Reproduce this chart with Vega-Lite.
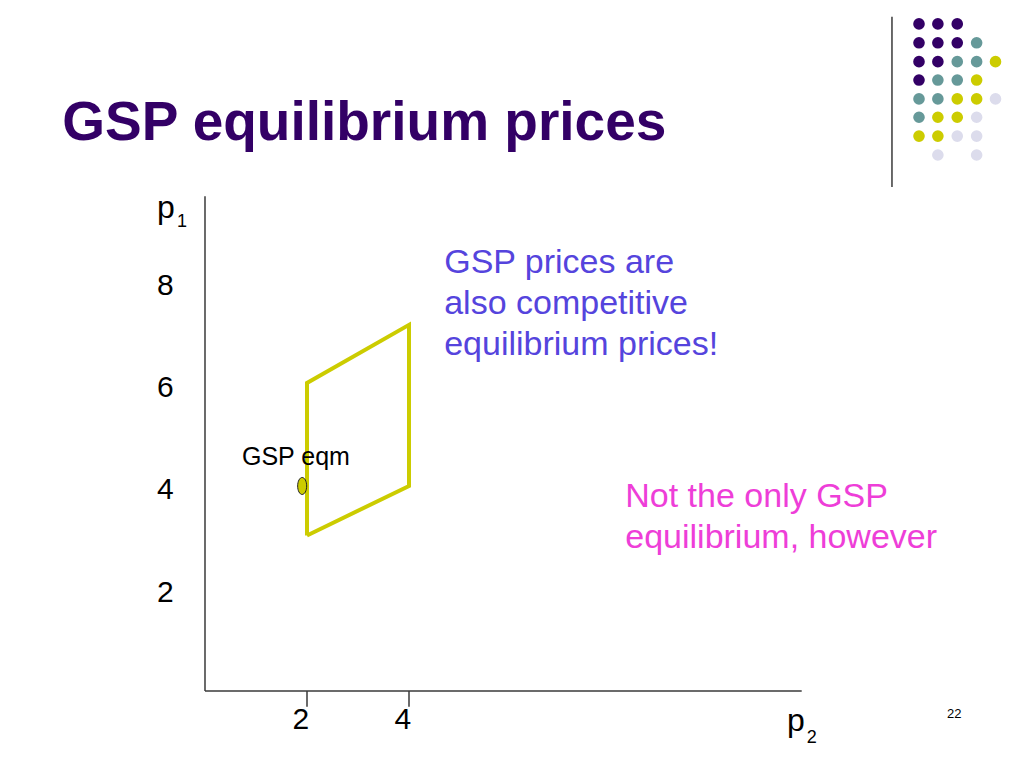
{
  "$schema": "https://vega.github.io/schema/vega-lite/v6.json",
  "width": 1024,
  "height": 768,
  "autosize": {"type": "fit", "contains": "padding"},
  "padding": 0,
  "background": "white",
  "config": {"view": {"stroke": null}, "text": {"font": "Liberation Sans"}},
  "datasets": {
    "rules": [
      {"x": 0, "y": 0, "x2": 11.7, "y2": 0},
      {"x": 0, "y": 0, "x2": 0, "y2": 9.7},
      {"x": 2, "y": 0, "x2": 2, "y2": -0.31},
      {"x": 4, "y": 0, "x2": 4, "y2": -0.31},
      {"x": 13.47, "y": 13.22, "x2": 13.47, "y2": 9.88}
    ],
    "region": [
      {"i": 0, "x": 2, "y": 3.05},
      {"i": 1, "x": 4, "y": 4.02},
      {"i": 2, "x": 4, "y": 7.18},
      {"i": 3, "x": 2, "y": 6.04},
      {"i": 4, "x": 2, "y": 3.05}
    ],
    "eqm": [{"x": 1.905, "y": 4.02}],
    "dots": [
      {"x": 14.0, "y": 13.08, "c": "P"}, {"x": 14.37, "y": 13.08, "c": "P"}, {"x": 14.75, "y": 13.08, "c": "P"},
      {"x": 14.0, "y": 12.71, "c": "P"}, {"x": 14.37, "y": 12.71, "c": "P"}, {"x": 14.75, "y": 12.71, "c": "P"}, {"x": 15.13, "y": 12.71, "c": "T"},
      {"x": 14.0, "y": 12.34, "c": "P"}, {"x": 14.37, "y": 12.34, "c": "P"}, {"x": 14.75, "y": 12.34, "c": "T"}, {"x": 15.13, "y": 12.34, "c": "T"}, {"x": 15.5, "y": 12.34, "c": "Y"},
      {"x": 14.0, "y": 11.98, "c": "P"}, {"x": 14.37, "y": 11.98, "c": "T"}, {"x": 14.75, "y": 11.98, "c": "T"}, {"x": 15.13, "y": 11.98, "c": "Y"},
      {"x": 14.0, "y": 11.61, "c": "T"}, {"x": 14.37, "y": 11.61, "c": "T"}, {"x": 14.75, "y": 11.61, "c": "Y"}, {"x": 15.13, "y": 11.61, "c": "Y"}, {"x": 15.5, "y": 11.61, "c": "L"},
      {"x": 14.0, "y": 11.25, "c": "T"}, {"x": 14.37, "y": 11.25, "c": "Y"}, {"x": 14.75, "y": 11.25, "c": "Y"}, {"x": 15.13, "y": 11.25, "c": "L"},
      {"x": 14.0, "y": 10.88, "c": "Y"}, {"x": 14.37, "y": 10.88, "c": "Y"}, {"x": 14.75, "y": 10.88, "c": "L"}, {"x": 15.13, "y": 10.88, "c": "L"},
      {"x": 14.37, "y": 10.51, "c": "L"}, {"x": 15.13, "y": 10.51, "c": "L"}
    ],
    "title": [{"t": "GSP equilibrium prices", "x": -2.8, "y": 10.8}],
    "ylabels": [
      {"t": "8", "x": -0.78, "y": 7.77},
      {"t": "6", "x": -0.78, "y": 5.77},
      {"t": "4", "x": -0.78, "y": 3.76},
      {"t": "2", "x": -0.78, "y": 1.75},
      {"t": "2", "x": 1.88, "y": -0.75},
      {"t": "4", "x": 3.88, "y": -0.75}
    ],
    "pnames": [
      {"t": "p", "x": -0.94, "y": 9.27},
      {"t": "p", "x": 11.41, "y": -0.78}
    ],
    "subs": [
      {"t": "1", "x": -0.55, "y": 9.1},
      {"t": "2", "x": 11.8, "y": -1.02}
    ],
    "note": [{"t": "GSP eqm", "x": 0.725, "y": 4.43}],
    "page": [{"t": "22", "x": 14.55, "y": -0.53}],
    "blue": [
      {"t": "GSP prices are", "x": 4.69, "y": 8.2},
      {"t": "also competitive", "x": 4.69, "y": 7.39},
      {"t": "equilibrium prices!", "x": 4.69, "y": 6.59}
    ],
    "pink": [
      {"t": "Not the only GSP", "x": 8.24, "y": 3.61},
      {"t": "equilibrium, however", "x": 8.24, "y": 2.8}
    ]
  },
  "encoding": {
    "x": {"field": "x", "type": "quantitative", "axis": null, "scale": {"domain": [-4.0196, 16.0588], "nice": false, "zero": false}},
    "y": {"field": "y", "type": "quantitative", "axis": null, "scale": {"domain": [-1.5098, 13.549], "nice": false, "zero": false}}
  },
  "layer": [
    {
      "data": {"name": "rules"},
      "mark": {"type": "rule", "color": "#3a3a3a", "strokeWidth": 1.5},
      "encoding": {"x2": {"field": "x2"}, "y2": {"field": "y2"}}
    },
    {
      "data": {"name": "region"},
      "mark": {"type": "line", "color": "#cccc00", "strokeWidth": 4, "strokeJoin": "miter"},
      "encoding": {"order": {"field": "i", "type": "quantitative"}}
    },
    {
      "data": {"name": "eqm"},
      "mark": {"type": "point", "filled": true, "shape": "M0,-1A0.53,1 0 1,1 0,1A0.53,1 0 1,1 0,-1Z", "size": 289, "color": "#cccc00", "stroke": "#222222", "strokeWidth": 1, "opacity": 1}
    },
    {
      "data": {"name": "dots"},
      "mark": {"type": "point", "filled": true, "shape": "circle", "size": 135, "opacity": 1},
      "encoding": {
        "color": {"field": "c", "type": "nominal", "legend": null,
          "scale": {"domain": ["P", "T", "Y", "L"], "range": ["#330066", "#669999", "#cccc00", "#dcdcec"]}}
      }
    },
    {
      "data": {"name": "title"},
      "mark": {"type": "text", "align": "left", "baseline": "alphabetic", "fontSize": 55, "fontWeight": "bold", "color": "#330066"},
      "encoding": {"text": {"field": "t"}}
    },
    {
      "data": {"name": "ylabels"},
      "mark": {"type": "text", "align": "center", "baseline": "alphabetic", "fontSize": 30, "color": "#000000"},
      "encoding": {"text": {"field": "t"}}
    },
    {
      "data": {"name": "pnames"},
      "mark": {"type": "text", "align": "left", "baseline": "alphabetic", "fontSize": 32, "color": "#000000"},
      "encoding": {"text": {"field": "t"}}
    },
    {
      "data": {"name": "subs"},
      "mark": {"type": "text", "align": "left", "baseline": "alphabetic", "fontSize": 18, "color": "#000000"},
      "encoding": {"text": {"field": "t"}}
    },
    {
      "data": {"name": "note"},
      "mark": {"type": "text", "align": "left", "baseline": "alphabetic", "fontSize": 25, "color": "#000000"},
      "encoding": {"text": {"field": "t"}}
    },
    {
      "data": {"name": "page"},
      "mark": {"type": "text", "align": "left", "baseline": "alphabetic", "fontSize": 13, "color": "#000000"},
      "encoding": {"text": {"field": "t"}}
    },
    {
      "data": {"name": "blue"},
      "mark": {"type": "text", "align": "left", "baseline": "alphabetic", "fontSize": 34, "color": "#5544dd"},
      "encoding": {"text": {"field": "t"}}
    },
    {
      "data": {"name": "pink"},
      "mark": {"type": "text", "align": "left", "baseline": "alphabetic", "fontSize": 34, "color": "#ee3ed8"},
      "encoding": {"text": {"field": "t"}}
    }
  ]
}
